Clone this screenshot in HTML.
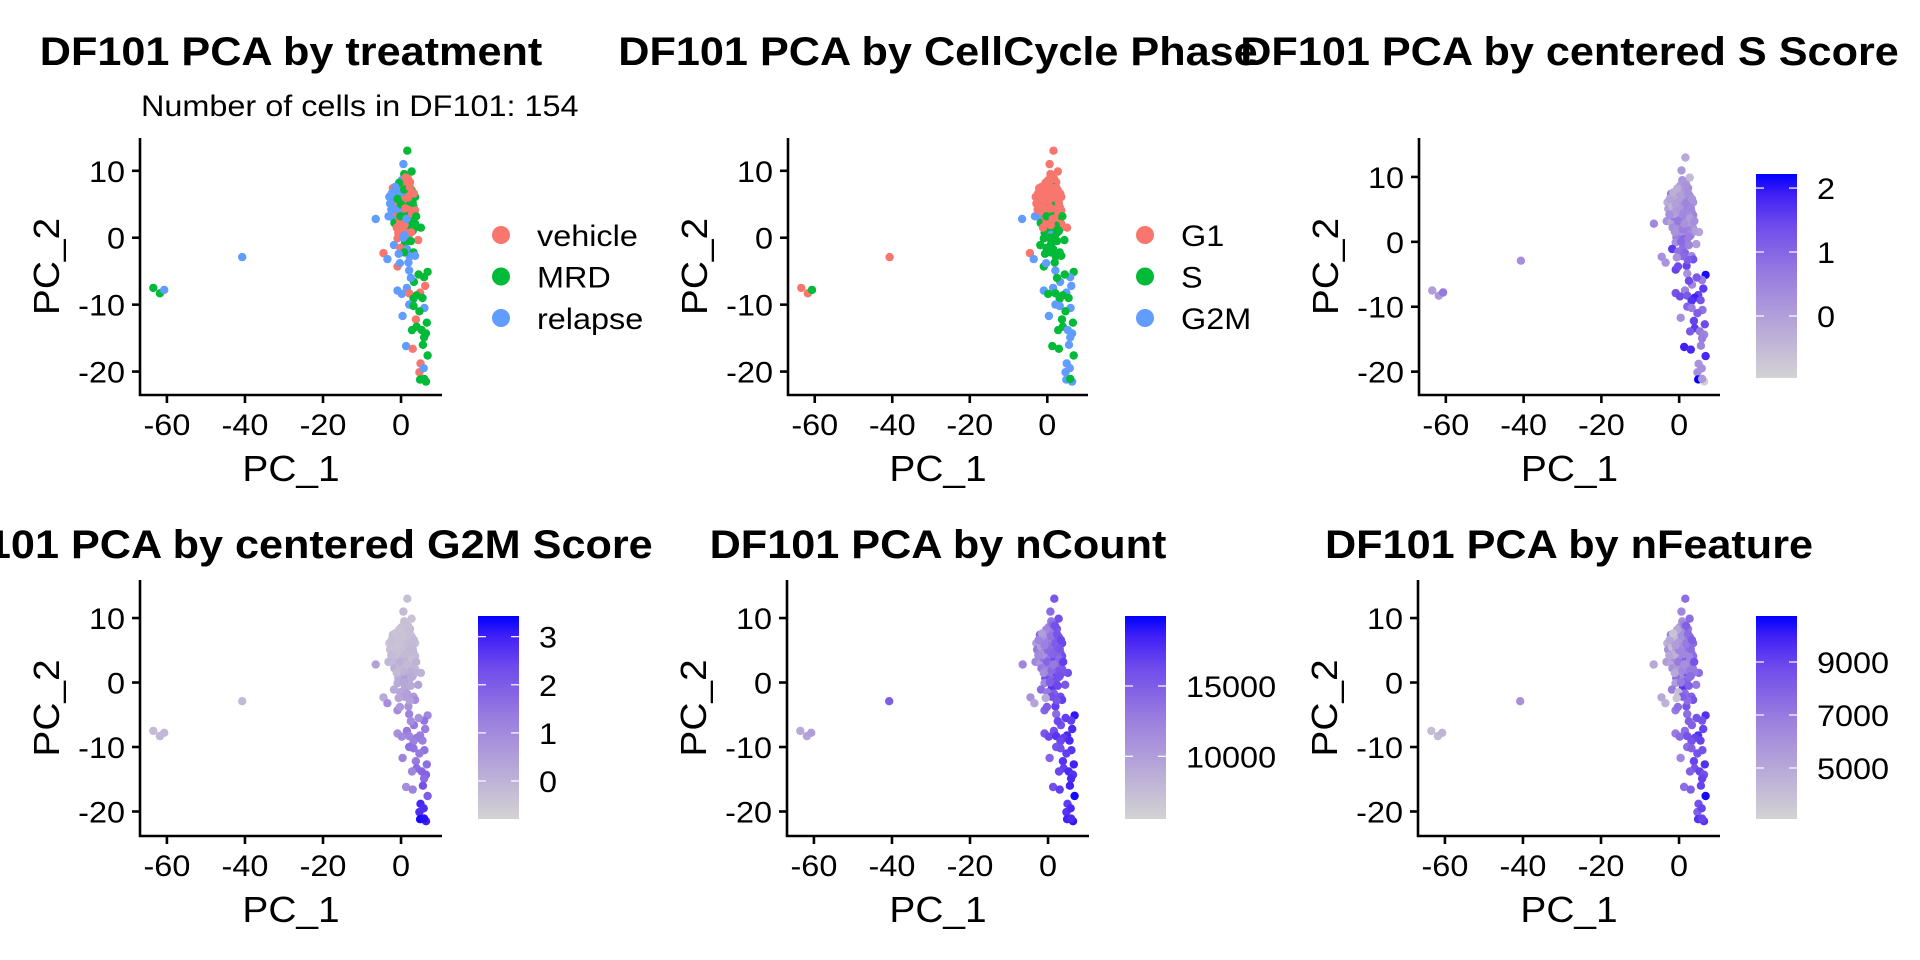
<!DOCTYPE html>
<html><head><meta charset="utf-8"><title>DF101 PCA panels</title>
<style>html,body{margin:0;padding:0;background:#fff;}svg{display:block;font-family:"Liberation Sans",Arial,sans-serif;}</style>
</head><body>
<svg id="chart" width="1920" height="960" viewBox="0 0 1920 960" xmlns="http://www.w3.org/2000/svg">
<defs>
<linearGradient id="cbgrad" x1="0" y1="1" x2="0" y2="0">
<stop offset="0" stop-color="#d3d3d3"/><stop offset="0.25" stop-color="#b7a8d8"/><stop offset="0.5" stop-color="#9a7ddf"/><stop offset="0.75" stop-color="#6e4aec"/><stop offset="0.9" stop-color="#4020f6"/><stop offset="1" stop-color="#0000ff"/>
</linearGradient>
</defs>
</svg>
<script>
const pc1=[-63.5,-61.8,-60.7,-40.7,1.6,0.6,2.7,0.8,0.2,2.3,1.5,-2.1,-0.7,2.7,-3.0,-1.5,3.6,1.3,-0.3,-2.8,1.9,3.2,0.2,3.6,1.0,-3.2,-2.0,-6.5,3.2,1.9,0.6,-1.7,-0.3,3.6,5.1,3.8,1.5,0.2,-0.7,1.0,1.9,4.4,-0.9,1.0,-1.8,1.5,3.2,3.6,-4.5,-3.5,-0.9,-0.3,1.9,2.1,6.8,5.9,3.3,6.2,1.5,-0.9,0.2,2.1,4.9,4.0,3.2,2.1,3.2,0.4,3.8,6.6,4.0,5.3,6.4,5.9,1.3,3.0,6.8,5.0,4.7,4.9,6.4,5.9,
0.5,1.2,-1.0,2.0,0.0,-1.8,2.6,1.0,-0.8,2.4,0.3,-1.2,1.6,2.8,-0.4,2.2,0.9,-1.1,3.0,0.5,2.5,-0.2,2.2,0.8,1.2,-0.5,1.8,-1.3,3.0,0.4,-2.4,1.8,-0.2,1.4,3.9,-2.5,0.8,2.3,-1.5,-0.6,2.6,0.0,3.3,1.1,-0.9,4.5,5.5,2.5,6.0,4.7,5.6,5.8,2.8];
const pc2=[-7.5,-8.3,-7.8,-2.9,13.0,11.0,9.9,9.5,8.6,8.3,7.6,7.4,7.1,7.1,6.1,6.0,6.1,5.6,5.4,5.1,4.9,4.6,4.5,4.1,3.9,3.2,3.0,2.8,2.9,2.6,2.4,2.2,2.1,2.1,1.5,1.6,1.4,1.1,0.7,0.4,0.15,-0.35,-0.1,-0.85,-1.1,-1.7,-2.2,-2.7,-2.3,-3.2,-4.3,-3.8,-3.7,-4.9,-5.1,-5.9,-6.6,-7.2,-7.5,-7.9,-8.4,-8.3,-8.2,-8.6,-9.1,-10.0,-10.2,-11.7,-12.2,-12.7,-13.3,-13.8,-14.3,-14.9,-16.2,-16.6,-17.6,-18.8,-20.1,-21.2,-21.5,-21.1,
7.8,6.8,6.5,6.4,6.2,5.5,5.8,5.0,4.8,4.2,3.6,3.8,3.4,3.6,2.9,1.8,1.9,1.5,1.0,0.0,-0.5,-1.5,-2.8,-2.2,9.0,8.2,8.8,4.3,5.2,5.6,6.6,6.0,3.2,2.8,3.2,4.2,7.2,7.5,7.6,-2.4,0.8,5.0,6.6,4.4,5.8,-5.5,-9.0,-6.0,-10.5,-11.0,-16.0,-19.5,-13.8];
const treatment=["MRD","MRD","relapse","relapse","MRD","relapse","MRD","MRD","relapse","vehicle","vehicle","vehicle","relapse","MRD","relapse","relapse","MRD","vehicle","relapse","relapse","MRD","MRD","relapse","vehicle","vehicle","relapse","relapse","relapse","MRD","MRD","vehicle","MRD","vehicle","MRD","MRD","MRD","vehicle","vehicle","vehicle","relapse","relapse","vehicle","vehicle","MRD","relapse","relapse","MRD","relapse","vehicle","relapse","vehicle","relapse","relapse","relapse","MRD","MRD","MRD","vehicle","relapse","relapse","relapse","vehicle","vehicle","MRD","MRD","relapse","MRD","relapse","vehicle","MRD","MRD","MRD","MRD","MRD","relapse","vehicle","MRD","vehicle","vehicle","MRD","MRD","MRD",
"vehicle","MRD","relapse","vehicle","relapse","relapse","MRD","MRD","vehicle","vehicle","relapse","vehicle","MRD","vehicle","vehicle","MRD","vehicle","vehicle","MRD","relapse","MRD","vehicle","relapse","MRD","vehicle","MRD","vehicle","relapse","MRD","vehicle","relapse","vehicle","MRD","relapse","MRD","relapse","MRD","vehicle","relapse","relapse","vehicle","MRD","vehicle","vehicle","MRD","MRD","MRD","relapse","relapse","MRD","MRD","relapse","MRD"];
const phase=["G1","G1","S","G1","G1","G1","G1","G1","G1","G1","S","G1","G1","G1","G1","G1","G1","S","G1","G1","G1","G1","G1","G1","G1","G2M","G2M","G2M","S","G1","G1","S","G1","G1","G1","G1","S","S","S","G2M","S","S","S","S","S","S","S","S","G1","G2M","S","G2M","S","G2M","S","G2M","G2M","G2M","G2M","G2M","S","S","G2M","S","S","G2M","G2M","G2M","S","S","S","G2M","G2M","G2M","S","S","S","G2M","G2M","G2M","G2M","S",
"G1","G1","G1","G1","G1","G1","G1","S","G1","G1","G1","G1","S","G1","G1","S","G1","G1","S","S","S","S","S","S","G1","G1","G1","G1","G1","G1","G1","G1","S","G1","S","G1","G1","G1","G1","S","S","G1","G1","G1","G1","S","S","S","G2M","S","G2M","G2M","S"];
const sScore=[0.0,0.1,0.7,0.3,-0.2,0.1,-0.5,0.2,0.0,0.3,0.5,0.6,0.2,0.4,-0.3,0.3,0.2,0.8,0.1,0.0,0.4,0.3,0.1,0.5,0.6,0.2,-0.1,0.4,0.4,0.0,0.7,0.3,0.1,0.2,-0.1,0.0,0.5,0.2,0.6,1.0,0.6,0.0,0.3,0.8,1.6,1.0,0.4,1.3,0.3,0.2,1.5,1.4,1.5,0.2,2.1,0.6,0.4,1.6,0.5,1.3,1.4,1.2,1.5,1.9,1.7,1.0,0.6,0.3,1.5,1.4,1.6,0.7,0.5,0.6,1.9,1.8,1.8,0.2,0.3,2.2,-0.9,0.1,
0.1,0.2,-0.2,0.4,0.0,-0.4,0.3,0.5,0.1,0.3,0.2,0.6,0.4,0.0,0.3,0.5,0.6,0.2,0.1,0.9,0.5,0.8,1.1,0.9,0.1,-0.3,0.2,0.0,0.4,0.2,-0.1,0.5,0.7,0.2,0.3,0.3,0.0,0.3,-0.3,0.2,0.6,0.1,0.2,0.4,0.0,1.2,1.3,1.4,0.8,1.1,0.5,0.3,1.2];
const g2mScore=[-0.2,-0.1,-0.1,-0.2,-0.3,-0.2,-0.4,-0.3,-0.3,-0.2,-0.1,-0.2,-0.3,-0.2,-0.4,-0.2,-0.3,0.0,-0.3,-0.3,-0.2,0.2,-0.1,-0.2,0.0,-0.1,-0.2,0.4,0.2,-0.2,0.0,0.1,-0.2,-0.1,0.0,0.0,0.3,0.1,0.2,0.6,0.3,0.4,0.2,0.3,0.2,0.5,0.6,0.9,0.2,0.9,1.0,0.6,0.8,1.2,1.1,1.5,1.4,1.3,1.4,0.8,1.0,1.1,1.3,1.4,1.2,1.6,1.5,1.2,1.4,1.6,1.7,1.8,1.9,1.7,0.9,1.2,2.0,2.9,2.8,3.3,3.0,3.2,
-0.3,-0.2,-0.4,-0.3,-0.3,-0.4,-0.2,-0.1,-0.3,-0.2,-0.2,-0.1,0.0,-0.3,-0.2,0.1,0.0,-0.2,0.1,0.3,0.2,0.3,0.4,0.5,-0.3,-0.4,-0.3,-0.3,-0.1,-0.3,-0.3,-0.2,0.1,-0.2,0.0,-0.2,-0.4,-0.3,-0.4,0.3,0.2,-0.3,-0.2,-0.2,-0.4,0.8,1.3,0.9,1.5,1.4,2.2,2.8,1.1];
const nCount=[9000,9500,10000,15000,15500,14000,16000,13000,12000,15000,16000,14000,11000,15500,10000,12500,16500,14500,11500,13000,17000,15000,12000,16000,14000,12000,10500,12000,15500,14000,13500,13000,12000,15000,16000,15500,17000,13500,16000,14500,16000,15500,12000,17500,14000,15000,16000,17000,11000,9500,14500,15000,17000,14000,19000,17000,16000,18000,16000,15500,16500,17500,18000,17000,16500,15500,16000,14500,17500,18500,17000,18000,17500,18000,16000,17000,19500,17000,17500,18500,19000,18000,
13000,14500,11000,15000,12500,10000,16000,15000,12000,14500,13000,13500,16500,14000,12500,15500,14000,11500,16000,15000,16500,13000,15500,16000,14000,12000,16000,11000,15500,13500,12000,15000,14500,13000,17000,11500,13500,15500,10000,9000,16000,14000,16500,14500,12500,17000,18000,16500,17500,17000,18500,18000,16500];
const nFeature=[4000,4200,4500,6000,7500,6500,7500,6000,5500,7000,7500,6500,5000,8000,4500,6000,7500,7000,5500,6000,8000,7000,5000,7500,6500,5500,5000,5000,7500,6500,6500,6000,5500,7000,7500,7000,9000,6000,7500,6500,8000,7000,5500,9500,7000,7500,8000,8500,5000,4500,7000,7500,8500,7500,9500,8500,8000,9000,7500,7000,7500,8500,9500,9000,8500,7500,8000,6500,9000,9500,8500,9000,8500,9000,7500,8000,10500,8500,8000,9500,9500,9000,
6000,6500,4200,7000,5500,4000,7500,7000,5500,6500,6000,6000,8000,6500,5500,7000,6500,5000,7500,7000,8000,4000,7500,8000,6500,5000,8000,4500,7500,6000,5000,7000,7000,6000,8500,5000,6000,7500,3800,3700,7500,6500,8000,6500,5500,8500,9000,8000,8500,8500,9000,9000,8000];
const trtLevels=["vehicle","MRD","relapse"];
const phaseLevels=["G1","S","G2M"];
const xTicks=[-60,-40,-20,0];
const yTicks=[-20,-10,0,10];
const sTicks=[0,1,2];
const g2mTicks=[0,1,2,3];
const nCountTicks=[10000,15000];
const nFeatureTicks=[5000,7000,9000];

const NS="http://www.w3.org/2000/svg";
const svg=document.getElementById('chart');
const hue=["#F8766D","#00BA38","#619CFF"];
const SX=1.08;
function mk(tag,attrs,parent){const e=document.createElementNS(NS,tag);for(const k in attrs)e.setAttribute(k,attrs[k]);(parent||svg).appendChild(e);return e;}
function txt(s,attrs,parent,rot){const a=Object.assign({},attrs);const x=a.x,y=a.y;delete a.x;delete a.y;
 a.x=0;a.y=0;a.transform=rot?`translate(${x},${y}) rotate(-90) scale(${SX},1)`:`translate(${x},${y}) scale(${SX},1)`;
 const e=mk('text',a,parent);e.textContent=s;return e;}
const stops=[[0,[211,211,211]],[0.25,[183,168,216]],[0.5,[154,125,223]],[0.75,[110,74,236]],[0.9,[64,32,246]],[1,[0,0,255]]];
function grad(t){t=Math.max(0,Math.min(1,t));for(let i=1;i<stops.length;i++){if(t<=stops[i][0]){const a=stops[i-1],b=stops[i];const f=(t-a[0])/(b[0]-a[0]);const c=a[1].map((v,j)=>Math.round(v+(b[1][j]-v)*f));return `rgb(${c[0]},${c[1]},${c[2]})`;}}return 'rgb(0,0,255)';}
const XD=[-66.9,10.5];
const panels=[
 {name:'treatment',title:'DF101 PCA by treatment',x0:140,x1:442,y0:138,y1:395,yd:[-23.5,14.9],tb:65,kind:'cat'},
 {name:'phase',title:'DF101 PCA by CellCycle Phase',x0:788,x1:1088,y0:138,y1:395,yd:[-23.5,14.9],tb:65,kind:'cat'},
 {name:'s-score',title:'DF101 PCA by centered S Score',x0:1419,x1:1720,y0:138,y1:395,yd:[-23.6,16],tb:65,kind:'cont',vals:sScore,ticks:sTicks,cb:[1756,1797,174,378],cr:[-0.97,2.22]},
 {name:'g2m-score',title:'DF101 PCA by centered G2M Score',x0:140,x1:442,y0:580,y1:836,yd:[-23.8,15.9],tb:558,kind:'cont',vals:g2mScore,ticks:g2mTicks,cb:[478,519,616,819],cr:[-0.79,3.43]},
 {name:'ncount',title:'DF101 PCA by nCount',x0:787,x1:1089,y0:580,y1:836,yd:[-23.8,15.9],tb:558,kind:'cont',vals:nCount,ticks:nCountTicks,cb:[1125,1166,616,819],cr:[5540,19980]},
 {name:'nfeature',title:'DF101 PCA by nFeature',x0:1418,x1:1720,y0:580,y1:836,yd:[-23.8,15.9],tb:558,kind:'cont',vals:nFeature,ticks:nFeatureTicks,cb:[1756,1797,616,819],cr:[3075,10736]}
];
panels.forEach((p,pi)=>{
 const g=mk('g',{});
 
 
 const xs=v=>p.x0+(v-XD[0])/(XD[1]-XD[0])*(p.x1-p.x0);
 const ys=v=>p.y1-(v-p.yd[0])/(p.yd[1]-p.yd[0])*(p.y1-p.y0);
 const cx=(p.x0+p.x1)/2;
 const t=txt(p.title,{x:cx,y:p.tb,'text-anchor':'middle','font-size':40,'font-weight':'bold',fill:'#000'},g);
 
 
 if(pi===0){const st=txt('Number of cells in DF101: 154',{x:141,y:116,'font-size':30,fill:'#000'},g);
  
  }
 const pg=mk('g',{},g);
 
 
 for(let i=0;i<pc1.length;i++){
  let col;
  if(p.kind==='cat'){col=pi===0?hue[trtLevels.indexOf(treatment[i])]:hue[phaseLevels.indexOf(phase[i])];}
  else{col=grad((p.vals[i]-p.cr[0])/(p.cr[1]-p.cr[0]));}
  const c=mk('circle',{cx:xs(pc1[i]).toFixed(1),cy:ys(pc2[i]).toFixed(1),r:4.2,fill:col},pg);
  
  
 }
 const ax=mk('path',{d:`M${p.x0},${p.y0}V${p.y1}H${p.x1}`,fill:'none',stroke:'#000','stroke-width':2.6},g);
 
 
 xTicks.forEach(v=>{const x=xs(v);mk('line',{x1:x,x2:x,y1:p.y1,y2:p.y1+8,stroke:'#000','stroke-width':2.6},g);
  const l=txt(String(v),{x:x,y:p.y1+40,'text-anchor':'middle','font-size':30,fill:'#000'},g);
  
  });
 yTicks.forEach(v=>{const y=ys(v);mk('line',{x1:p.x0-8,x2:p.x0,y1:y,y2:y,stroke:'#000','stroke-width':2.6},g);
  const l=txt(String(v),{x:p.x0-15,y:y+11,'text-anchor':'end','font-size':30,fill:'#000'},g);
  
  });
 const xt=txt('PC_1',{x:cx,y:p.y1+86,'text-anchor':'middle','font-size':36,fill:'#000'},g);
 
 
 const ym=(p.y0+p.y1)/2;
 const yt=txt('PC_2',{x:p.x0-81,y:ym,'text-anchor':'middle','font-size':36,fill:'#000'},g,true);
 
 
 if(p.kind==='cat'){
  const labs=pi===0?trtLevels:phaseLevels;
  const lx=pi===0?501:1145;
  const lg=mk('g',{},g);
  
  
  labs.forEach((s,k)=>{const y=235+k*41.5;
   const e=mk('g',{},lg);
   
   
   mk('circle',{cx:lx,cy:y,r:9,fill:hue[k]},e);
   txt(s,{x:lx+36,y:y+11,'font-size':30,fill:'#000'},e);});
 } else {
  const [bx0,bx1,by0,by1]=p.cb;
  const cg=mk('g',{},g);
  
  
  mk('rect',{x:bx0,y:by0,width:bx1-bx0,height:by1-by0,fill:'url(#cbgrad)'},cg);
  const cs=v=>by1-(v-p.cr[0])/(p.cr[1]-p.cr[0])*(by1-by0);
  p.ticks.forEach(v=>{const y=cs(v);
   mk('line',{x1:bx0,x2:bx0+8,y1:y,y2:y,stroke:'#fff','stroke-width':1.2},cg);
   mk('line',{x1:bx1-8,x2:bx1,y1:y,y2:y,stroke:'#fff','stroke-width':1.2},cg);
   const l=txt(String(v),{x:bx1+20,y:y+11,'font-size':30,fill:'#000'},cg);
   
   });
 }
});
</script>
</body></html>
